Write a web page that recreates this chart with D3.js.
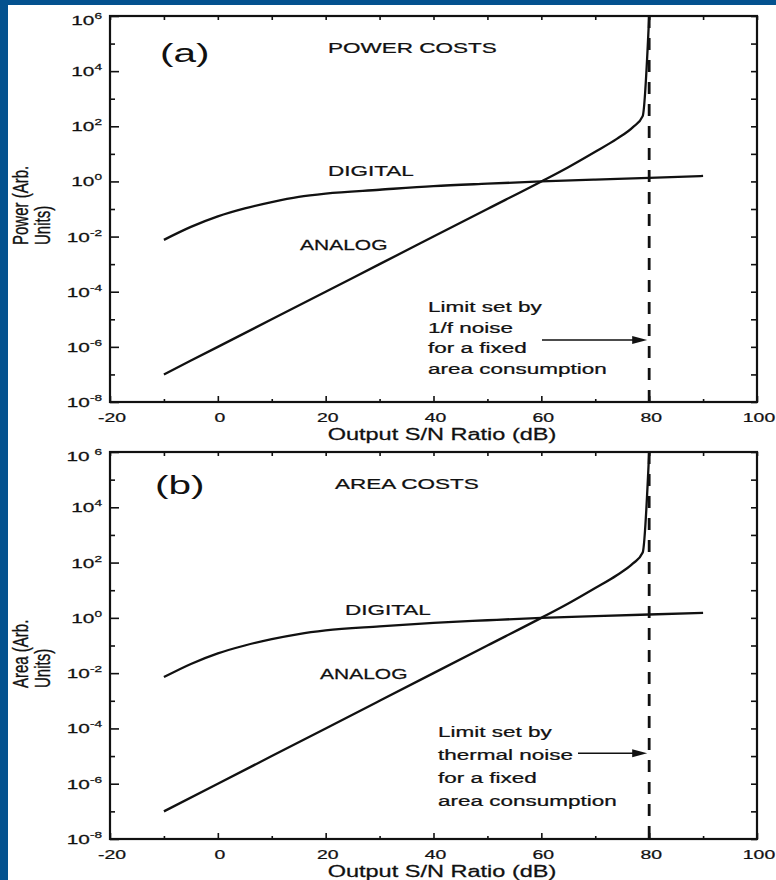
<!DOCTYPE html>
<html lang="en">
<head>
<meta charset="UTF-8">
<title>Power and Area Costs: Analog vs Digital</title>
<script src="https://d3js.org/d3.v7.min.js"></script>
<style>
    body { margin: 0; background: #ffffff; }
    svg { display: block; font-family: "Liberation Sans", Arial, sans-serif; }
    .curve { fill: none; stroke: #111; stroke-width: 2.3px; }
    .tick line { stroke: #111; stroke-width: 1.6px; }
    text { fill: #111; stroke: #111; stroke-width: 0.25px; }
    text.tag { stroke-width: 0; }
</style>
</head>
<body>
<svg id="chart"></svg>
<script>
// x values (Output S/N ratio, dB) and y values (arb. units)
const digitalSNR   = [-10, -5, 0, 5, 10, 15, 20, 30, 40, 50, 60, 70, 80, 90];
const digitalPower = [0.0076, 0.0224, 0.054, 0.105, 0.178, 0.275, 0.363, 0.50, 0.676, 0.83, 1.0, 1.17, 1.35, 1.58];
const digitalArea  = [0.0072, 0.0215, 0.052, 0.10, 0.17, 0.26, 0.35, 0.49, 0.66, 0.82, 1.0, 1.15, 1.32, 1.51];

const analogSNR    = [-10, 0, 10, 20, 30, 40, 50, 60, 65, 70, 74, 77, 78.8, 80];
const analogPower  = [1e-7, 1e-6, 1e-5, 1e-4, 1e-3, 1e-2, 0.1, 1.0, 3.3, 12, 35, 93, 234, 1e6];
const analogArea   = [1e-7, 1e-6, 1e-5, 1e-4, 1e-3, 1e-2, 0.1, 1.0, 3.3, 12, 35, 93, 230, 1e6];

const limitSNR = 80;
const xMajorTicks = [-20, 0, 20, 40, 60, 80, 100];
const xMinorTicks = [-10, 10, 30, 50, 70, 90];
const yMajorExp = [6, 4, 2, 0, -2, -4, -6, -8];
const yMinorExp = [5, 3, 1, -1, -3, -5, -7];

const W = 776, H = 880;
const S = 1.5;   // the source picture is stretched sideways
const left = 110, right = 757;

const svg = d3.select("#chart").attr("width", W).attr("height", H);
svg.append("rect").attr("width", W).attr("height", H).attr("fill", "#04528f");
svg.append("rect").attr("x", 8).attr("y", 5).attr("width", W - 8).attr("height", H - 5).attr("fill", "#fff");

const x = d3.scaleLinear().domain([-20, 100]).range([left, right]);

function label(g, px, py, str, size, anchor, sx) {
    return g.append("text")
        .attr("transform", `translate(${px},${py}) scale(${sx || S},1)`)
        .attr("text-anchor", anchor || "start")
        .style("font-size", size + "px")
        .text(str);
}

function drawPanel(p) {
    const y = d3.scaleLog().domain([1e-8, 1e6]).range([p.bottom, p.top]);
    const g = svg.append("g");

    // ticks (pointing inward on all four sides)
    const tk = (axis, tr) => {
        const a = g.append("g").attr("transform", tr).call(axis);
        a.select(".domain").remove();
        a.selectAll("text").remove();
    };
    tk(d3.axisBottom(x).tickValues(xMajorTicks).tickSize(-6), `translate(0,${p.bottom})`);
    tk(d3.axisBottom(x).tickValues(xMinorTicks).tickSize(-3), `translate(0,${p.bottom})`);
    tk(d3.axisTop(x).tickValues(xMajorTicks.concat(xMinorTicks)).tickSize(-4), `translate(0,${p.top})`);
    tk(d3.axisLeft(y).tickValues(yMajorExp.map(e => Math.pow(10, e))).tickSize(-9), `translate(${left},0)`);
    tk(d3.axisLeft(y).tickValues(yMinorExp.map(e => Math.pow(10, e))).tickSize(-5), `translate(${left},0)`);
    tk(d3.axisRight(y).tickValues(yMajorExp.concat(yMinorExp).map(e => Math.pow(10, e))).tickSize(-6), `translate(${right},0)`);

    // frame
    g.append("rect")
        .attr("x", left).attr("y", p.top)
        .attr("width", right - left).attr("height", p.bottom - p.top)
        .attr("fill", "none").attr("stroke", "#111").attr("stroke-width", 2.2);

    // y tick labels 10^n
    yMajorExp.forEach(e => {
        const ty = y(Math.pow(10, e)) + (e === 6 ? 9 : 5);
        const t = g.append("text")
            .attr("transform", `translate(${left - 8},${ty}) scale(1.6,1)`)
            .attr("text-anchor", "end")
            .style("font-size", "13px");
        t.append("tspan").text("10");
        t.append("tspan")
            .attr("dx", e === 6 && p.gap6 ? 3 : 0)
            .attr("dy", -6)
            .style("font-size", "8.5px")
            .text(e < 0 ? "-" + (-e) : e);
    });

    // x tick labels
    xMajorTicks.forEach(v => {
        label(g, x(v) + 2, p.bottom + 20, v, 12.5, "middle", 1.55);
    });
    label(g, 442, p.bottom + 38, "Output S/N Ratio (dB)", 16, "middle", 1.47);

    // y axis title, two rotated lines
    p.yTitle.forEach((s, i) => {
        g.append("text")
            .attr("transform", `translate(${28 + i * 22},${p.yTitleStart}) scale(1.45,1) rotate(-90)`)
            .style("font-size", "15px")
            .text(s);
    });

    // curves
    const line = d3.line()
        .x(d => x(d[0]))
        .y(d => y(d[1]))
        .curve(d3.curveMonotoneX);
    g.append("path").attr("class", "curve")
        .attr("d", line(digitalSNR.map((v, i) => [v, p.digital[i]])));
    g.append("path").attr("class", "curve")
        .attr("d", line(analogSNR.map((v, i) => [v, p.analog[i]])));

    // dashed limit line
    g.append("line")
        .attr("x1", x(limitSNR)).attr("x2", x(limitSNR))
        .attr("y1", p.top).attr("y2", p.bottom)
        .attr("stroke", "#111").attr("stroke-width", 2.8)
        .attr("stroke-dasharray", "12,10");

    // panel texts
    label(g, p.tagX, p.top + p.tagDy, p.tag, 25, "start", 1.62).attr("class", "tag");
    label(g, p.titleX, p.top + 37, p.title, 15);
    label(g, p.digitalX, y(p.digitalLabelY), "DIGITAL", 15);
    label(g, p.analogX, y(p.analogLabelY), "ANALOG", 15, "start", 1.4);

    p.note.forEach((s, i) => {
        label(g, p.noteX, p.noteY + i * p.noteStep, s, 15);
    });

    // arrow to the limit line
    const ay = y(p.arrowY);
    const tipX = x(limitSNR) - 2;
    g.append("line")
        .attr("x1", p.arrowX).attr("x2", tipX - 10)
        .attr("y1", ay).attr("y2", ay)
        .attr("stroke", "#111").attr("stroke-width", 1.5);
    g.append("path")
        .attr("d", `M${tipX},${ay} L${tipX - 15},${ay - 4} L${tipX - 15},${ay + 4} Z`)
        .attr("fill", "#111");
}

drawPanel({
    top: 16, bottom: 402,
    digital: digitalPower, analog: analogPower,
    tag: "(a)", tagX: 160, tagDy: 46,
    title: "POWER COSTS", titleX: 328,
    digitalX: 328, digitalLabelY: Math.pow(10, 0.2),
    analogX: 300, analogLabelY: Math.pow(10, -2.5),
    yTitle: ["Power (Arb.", "Units)"], yTitleStart: 245,
    note: ["Limit set by", "1/f noise", "for a fixed", "area consumption"],
    noteX: 428, noteY: 312, noteStep: 20.7,
    arrowX: 542, arrowY: Math.pow(10, -5.75)
});

drawPanel({
    top: 452, bottom: 839, gap6: true,
    digital: digitalArea, analog: analogArea,
    tag: "(b)", tagX: 155, tagDy: 42,
    title: "AREA COSTS", titleX: 335,
    digitalX: 345, digitalLabelY: Math.pow(10, 0.1),
    analogX: 320, analogLabelY: Math.pow(10, -2.2),
    yTitle: ["Area (Arb.", "Units)"], yTitleStart: 688,
    note: ["Limit set by", "thermal noise", "for a fixed", "area consumption"],
    noteX: 438, noteY: 737, noteStep: 23,
    arrowX: 578, arrowY: Math.pow(10, -4.9)
});
</script>
</body>
</html>
